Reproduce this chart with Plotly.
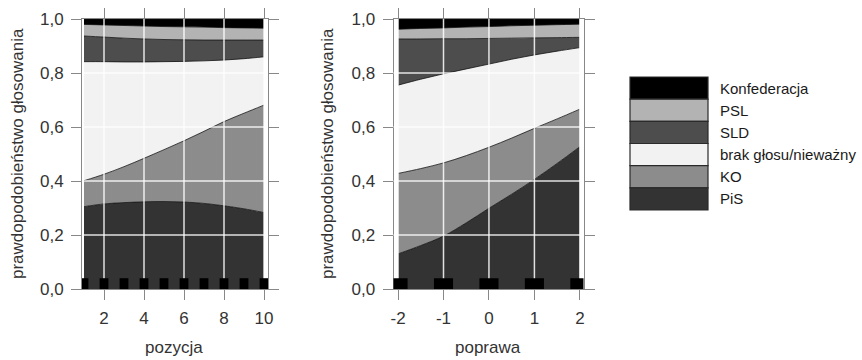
import plotly.graph_objects as go

# ---------------- data ----------------
series = ["PiS", "KO", "brak głosu/nieważny", "SLD", "PSL", "Konfederacja"]
colors = ["#333333", "#8c8c8c", "#f2f2f2", "#4d4d4d", "#b3b3b3", "#000000"]

pozycja = [1, 2, 3, 4, 5, 6, 7, 8, 9, 10]
poz_PiS = [0.305, 0.315, 0.320, 0.323, 0.324, 0.322, 0.317, 0.308, 0.297, 0.283]
poz_KO = [0.096, 0.110, 0.133, 0.161, 0.192, 0.227, 0.267, 0.312, 0.354, 0.398]
poz_brak = [0.441, 0.417, 0.388, 0.357, 0.326, 0.294, 0.261, 0.228, 0.202, 0.179]
poz_SLD = [0.095, 0.091, 0.088, 0.085, 0.082, 0.080, 0.077, 0.074, 0.069, 0.062]
poz_PSL = [0.043, 0.045, 0.047, 0.048, 0.048, 0.048, 0.048, 0.046, 0.045, 0.044]
poz_Konf = [0.020, 0.022, 0.024, 0.026, 0.028, 0.029, 0.030, 0.032, 0.033, 0.034]

poprawa = [-2, -1.5, -1, -0.5, 0, 0.5, 1, 1.5, 2]
pop_PiS = [0.130, 0.161, 0.196, 0.245, 0.299, 0.351, 0.406, 0.465, 0.527]
pop_KO = [0.298, 0.285, 0.271, 0.249, 0.226, 0.208, 0.189, 0.165, 0.139]
pop_brak = [0.327, 0.331, 0.330, 0.321, 0.308, 0.292, 0.272, 0.251, 0.228]
pop_SLD = [0.171, 0.149, 0.130, 0.112, 0.095, 0.078, 0.063, 0.050, 0.038]
pop_PSL = [0.036, 0.039, 0.040, 0.043, 0.044, 0.046, 0.047, 0.048, 0.049]
pop_Konf = [0.038, 0.035, 0.033, 0.030, 0.028, 0.025, 0.023, 0.021, 0.019]

rug_pozycja = [1, 2, 3, 4, 5, 6, 7, 8, 9, 10]
rug_poprawa = [-2, -1, 0, 1, 2]

x1_ticks = [2, 4, 6, 8, 10]
x2_ticks = [-2, -1, 0, 1, 2]
x2_ticktext = ["-2", "-1", "0", "1", "2"]
y_ticks = [0.0, 0.2, 0.4, 0.6, 0.8, 1.0]
y_ticktext = ["0,0", "0,2", "0,4", "0,6", "0,8", "1,0"]

# ---------------- figure ----------------
FONT = "Liberation Sans, Arial, sans-serif"
fig = go.Figure()

left = [poz_PiS, poz_KO, poz_brak, poz_SLD, poz_PSL, poz_Konf]
right = [pop_PiS, pop_KO, pop_brak, pop_SLD, pop_PSL, pop_Konf]

for name, col, vals in zip(series, colors, left):
    fig.add_trace(go.Scatter(x=pozycja, y=vals, name=name, stackgroup="a",
                             mode="lines", fillcolor=col,
                             line=dict(color="#111111", width=0.8, shape="spline"),
                             xaxis="x", yaxis="y", showlegend=False, hoverinfo="skip"))
for name, col, vals in zip(series, colors, right):
    fig.add_trace(go.Scatter(x=poprawa, y=vals, name=name, stackgroup="b",
                             mode="lines", fillcolor=col,
                             line=dict(color="#111111", width=0.8, shape="spline"),
                             xaxis="x2", yaxis="y2", showlegend=False, hoverinfo="skip"))

shapes = []
grid = dict(color="rgba(255,255,255,0.85)", width=1.5)
for xr, yr, xt in [("x", "y", x1_ticks), ("x2", "y2", x2_ticks)]:
    for v in xt:
        shapes.append(dict(type="line", xref=xr, yref=yr, x0=v, x1=v, y0=0, y1=1,
                           line=grid, layer="above"))
    for v in y_ticks[1:-1]:
        shapes.append(dict(type="line", xref=xr + " domain", yref=yr, x0=0, x1=1,
                           y0=v, y1=v, line=grid, layer="above"))

# rug
for v in rug_pozycja:
    shapes.append(dict(type="rect", xref="x", yref="y", x0=v - 0.22, x1=v + 0.22,
                       y0=0, y1=0.04, fillcolor="#000000", line=dict(width=0),
                       layer="above"))
for v in rug_poprawa:
    shapes.append(dict(type="rect", xref="x2", yref="y2", x0=v - 0.21, x1=v + 0.21,
                       y0=0, y1=0.04, fillcolor="#000000", line=dict(width=0),
                       layer="above"))

# legend swatches
leg_x0, leg_x1 = 630 / 862, 708 / 862
leg_top, leg_bot = (360 - 77) / 360, (360 - 210) / 360
row_h = (leg_top - leg_bot) / len(series)
annotations = []
for i, (name, col) in enumerate(zip(reversed(series), reversed(colors))):
    y1 = leg_top - i * row_h
    y0 = y1 - row_h
    shapes.append(dict(type="rect", xref="paper", yref="paper", x0=leg_x0, x1=leg_x1,
                       y0=y0, y1=y1, fillcolor=col, line=dict(color="#2a2a2a", width=1.2)))
    annotations.append(dict(text=name, xref="paper", yref="paper", x=718 / 862,
                            y=(y0 + y1) / 2, xanchor="left", yanchor="middle",
                            showarrow=False, font=dict(size=15, color="#1a1a1a", family=FONT)))

# axis titles
tfont = dict(size=17, color="#333333", family=FONT)
annotations += [
    dict(text="pozycja", xref="paper", yref="paper", x=174 / 862, y=(360 - 347) / 360,
         xanchor="center", yanchor="middle", showarrow=False, font=tfont),
    dict(text="poprawa", xref="paper", yref="paper", x=488 / 862, y=(360 - 347) / 360,
         xanchor="center", yanchor="middle", showarrow=False, font=tfont),
    dict(text="prawdopodobieństwo głosowania", xref="paper", yref="paper", x=17 / 862,
         y=(360 - 154) / 360, textangle=-90, xanchor="center", yanchor="middle",
         showarrow=False, font=tfont),
    dict(text="prawdopodobieństwo głosowania", xref="paper", yref="paper", x=327 / 862,
         y=(360 - 154) / 360, textangle=-90, xanchor="center", yanchor="middle",
         showarrow=False, font=tfont),
]

axis_common = dict(showline=True, linecolor="#888888", linewidth=1, mirror="ticks",
                   ticks="outside", ticklen=10, tickcolor="#888888", tickwidth=1,
                   showgrid=False, zeroline=False, layer="above traces", automargin=False,
                   ticklabelstandoff=4,
                   tickfont=dict(size=17, color="#333333", family=FONT))

ydom = [(360 - 289) / 360, (360 - 19) / 360]
fig.update_layout(
    template="none",
    width=862, height=360,
    margin=dict(l=0, r=0, t=0, b=0, pad=0),
    paper_bgcolor="white", plot_bgcolor="white",
    showlegend=False,
    xaxis=dict(domain=[82 / 862, 268 / 862], range=[0.9, 10.2], tickvals=x1_ticks,
               anchor="y", **axis_common),
    yaxis=dict(domain=ydom, range=[0, 1], tickvals=y_ticks, ticktext=y_ticktext,
               anchor="x", **axis_common),
    xaxis2=dict(domain=[393.5 / 862, 583.5 / 862], range=[-2.1, 2.08], tickvals=x2_ticks,
                ticktext=x2_ticktext, anchor="y2", **axis_common),
    yaxis2=dict(domain=ydom, range=[0, 1], tickvals=y_ticks, ticktext=y_ticktext,
                anchor="x2", **axis_common),
    shapes=shapes,
    annotations=annotations,
)

fig.write_html("out.html",
               config={"displayModeBar": False, "staticPlot": True},
               post_script="document.body.style.margin='0px';"
                           "document.body.style.overflow='hidden';")
